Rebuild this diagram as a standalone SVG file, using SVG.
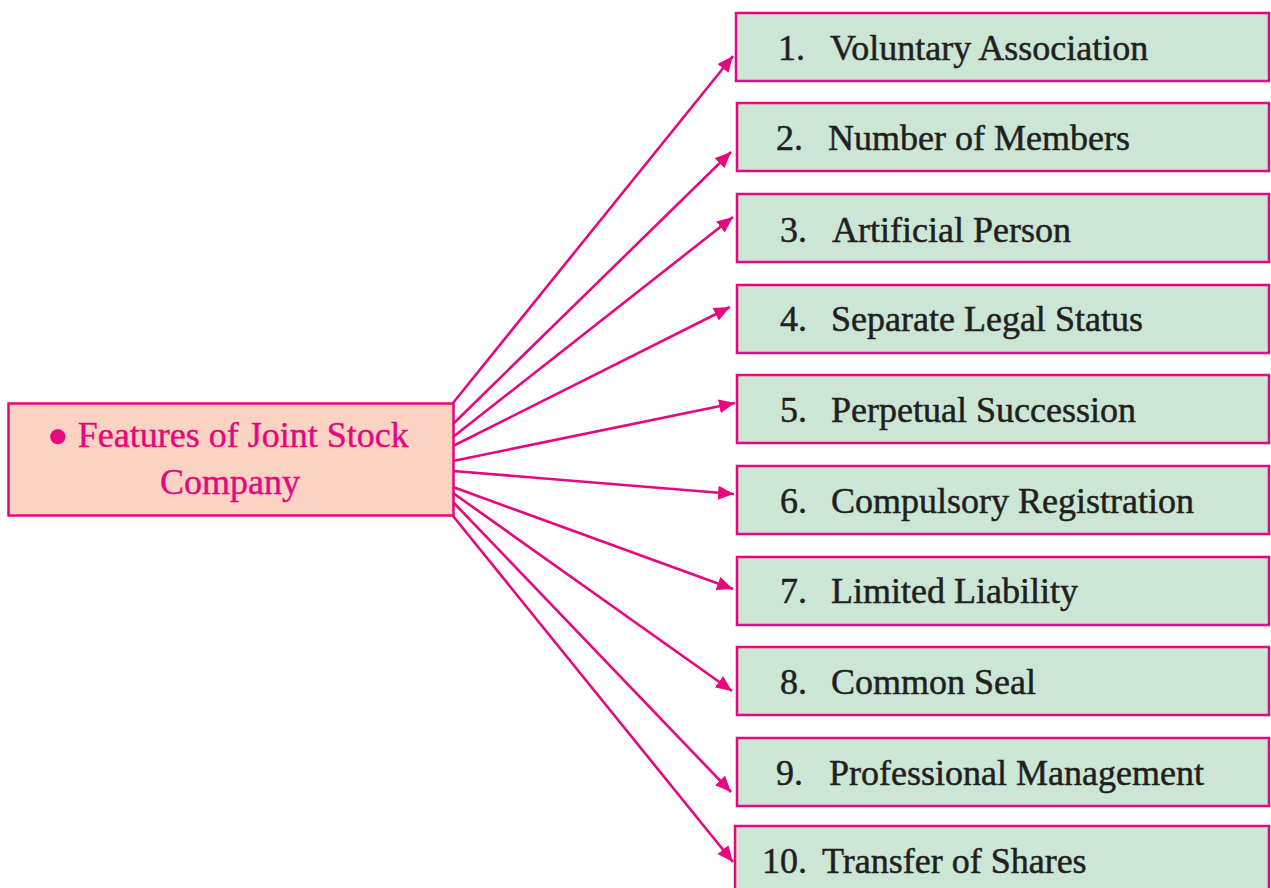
<svg xmlns="http://www.w3.org/2000/svg" width="1271" height="888" viewBox="0 0 1271 888">
<style>
.feat rect{fill:#CBE6D5;stroke:#E8067F;stroke-width:2.5}
.feat text{font-family:"Liberation Serif","Times New Roman",serif;font-size:36px;fill:#231F20;stroke:#231F20;stroke-width:0.5}
.main rect{fill:#FBD3C2;stroke:#E8067F;stroke-width:2.5}
.main text{font-family:"Liberation Serif","Times New Roman",serif;font-size:36px;fill:#E8067F;stroke:#E8067F;stroke-width:0.4}
.conn line{stroke:#E8067F;stroke-width:2.6;marker-end:url(#ah)}
</style>
<defs>
<marker id="ah" markerUnits="userSpaceOnUse" markerWidth="18" markerHeight="14" refX="16" refY="7" orient="auto">
<path d="M0,0 L16,7 L0,14 z" fill="#E8067F"/>
</marker>
</defs>
<rect width="1271" height="888" fill="#ffffff"/>
<g id="center" class="main">
<rect x="8.5" y="403.5" width="445" height="112"/>
<text x="47" y="447"><tspan font-size="62" dy="10">•</tspan><tspan dy="-10"> Features of Joint Stock</tspan></text>
<text x="230" y="494" text-anchor="middle">Company</text>
</g>
<g id="connectors" class="conn">
<line x1="453" y1="403" x2="733" y2="56"/>
<line x1="453" y1="424" x2="731" y2="152"/>
<line x1="453" y1="437" x2="733" y2="217"/>
<line x1="453" y1="446" x2="730" y2="307"/>
<line x1="453" y1="461" x2="735" y2="403"/>
<line x1="453" y1="471" x2="734" y2="494"/>
<line x1="453" y1="487" x2="733" y2="589"/>
<line x1="453" y1="493" x2="732" y2="691"/>
<line x1="453" y1="502" x2="731" y2="792"/>
<line x1="453" y1="516" x2="733" y2="862"/>
</g>
<g id="f1" class="feat"><rect x="736" y="13" width="533" height="68"/><text x="778" y="60">1.</text><text x="830" y="60">Voluntary Association</text></g>
<g id="f2" class="feat"><rect x="737" y="103" width="532" height="68"/><text x="776" y="150">2.</text><text x="828" y="150">Number of Members</text></g>
<g id="f3" class="feat"><rect x="737" y="194" width="532" height="68"/><text x="780" y="242">3.</text><text x="832" y="242">Artificial Person</text></g>
<g id="f4" class="feat"><rect x="737" y="285" width="532" height="68"/><text x="780" y="331">4.</text><text x="831" y="331">Separate Legal Status</text></g>
<g id="f5" class="feat"><rect x="737" y="375" width="532" height="68"/><text x="780" y="422">5.</text><text x="831" y="422">Perpetual Succession</text></g>
<g id="f6" class="feat"><rect x="737" y="466" width="532" height="68"/><text x="780" y="513">6.</text><text x="831" y="513">Compulsory Registration</text></g>
<g id="f7" class="feat"><rect x="737" y="557" width="532" height="68"/><text x="780" y="603">7.</text><text x="831" y="603">Limited Liability</text></g>
<g id="f8" class="feat"><rect x="737" y="647" width="532" height="68"/><text x="780" y="694">8.</text><text x="831" y="694">Common Seal</text></g>
<g id="f9" class="feat"><rect x="737" y="738" width="532" height="68"/><text x="776" y="785">9.</text><text x="829" y="785">Professional Management</text></g>
<g id="f10" class="feat"><rect x="735" y="826" width="534" height="68"/><text x="762" y="873">10.</text><text x="822" y="873">Transfer of Shares</text></g>
</svg>
